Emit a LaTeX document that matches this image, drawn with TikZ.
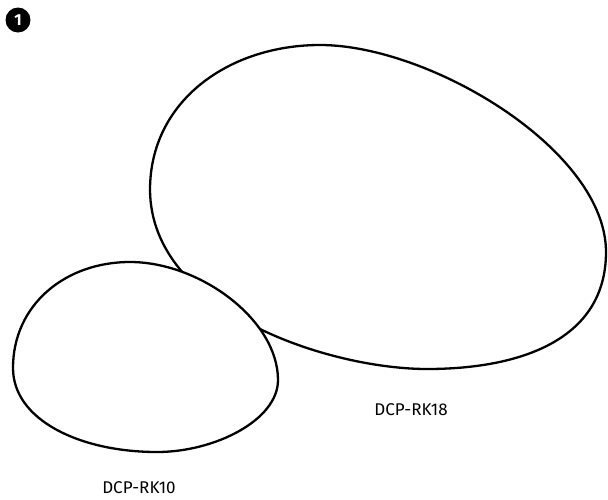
\documentclass[tikz,border=0pt]{standalone}
\usepackage{fontspec}
\setmainfont{Fira Sans}
\begin{document}
\begin{tikzpicture}[x=1pt,y=-1pt,
  outline/.style={line width=2.3pt, line join=round},
  lbl/.style={font=\fontsize{17}{19}\selectfont, inner sep=0pt}]
\useasboundingbox (0,0) rectangle (608,499);
% big shape
\draw[outline] (320,45) .. controls (430,45) and (606,150) .. (606,252)
  .. controls (606,340) and (520,369) .. (427,369)
  .. controls (330,369) and (151,312) .. (150,190)
  .. controls (150,100) and (230,45) .. (320,45) -- cycle;
% small shape (on top, white filled)
\draw[outline, fill=white] (130,262) .. controls (200,262) and (278,320) .. (278,380)
  .. controls (278,420) and (215,452) .. (157,452)
  .. controls (80,452) and (13,420) .. (13,368)
  .. controls (13,305) and (65,262) .. (130,262) -- cycle;
\node[lbl] (rk18) at (411,410) {DCP-RK18};
\node[lbl] (rk10) at (139,488) {DCP-RK10};
\node[circle, fill=black, minimum size=25pt, inner sep=0pt, text=white,
  font=\bfseries\fontsize{16}{16}\selectfont] (one) at (18,20) {1};
\end{tikzpicture}
\end{document}
